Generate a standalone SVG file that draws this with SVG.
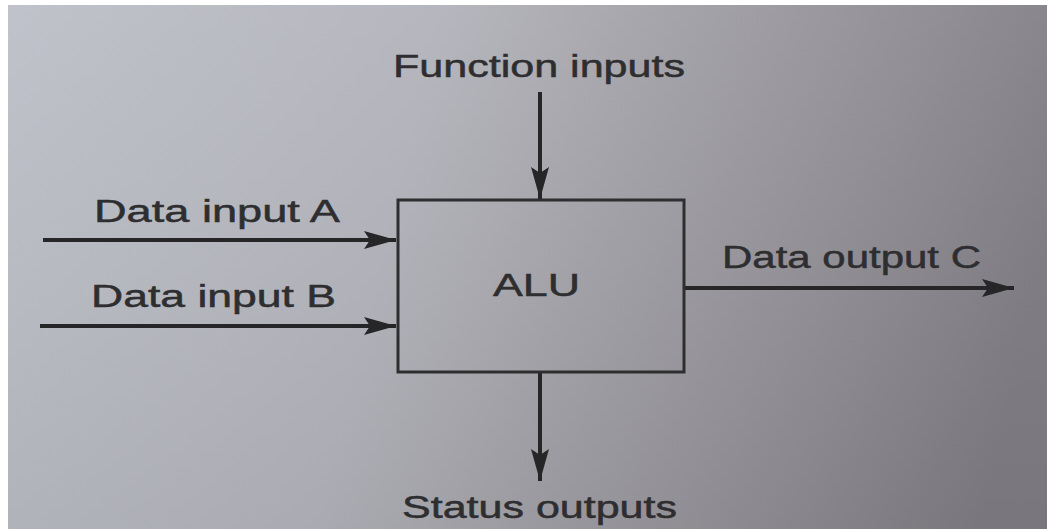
<svg xmlns="http://www.w3.org/2000/svg" width="1047" height="529" viewBox="0 0 1047 529">
  <defs>
    <linearGradient id="bg" x1="0" y1="0" x2="1047" y2="250" gradientUnits="userSpaceOnUse">
      <stop offset="0" stop-color="#bdc0c8"/>
      <stop offset="0.4" stop-color="#b3b4bb"/>
      <stop offset="0.58" stop-color="#a4a3a9"/>
      <stop offset="0.82" stop-color="#908e94"/>
      <stop offset="1" stop-color="#7f7d83"/>
    </linearGradient>
    <linearGradient id="shade" x1="0" y1="0" x2="0" y2="1">
      <stop offset="0" stop-color="#ffffff" stop-opacity="0.04"/>
      <stop offset="1" stop-color="#000000" stop-opacity="0.05"/>
    </linearGradient>
    <marker id="arr" viewBox="0 0 32 18" refX="32" refY="9" markerWidth="32" markerHeight="18" markerUnits="userSpaceOnUse" orient="auto">
      <path d="M0,0 L32,9 L0,18 L6,9 Z" fill="#262628"/>
    </marker>
    <style>
      .lbl { font-family: "Liberation Sans", Arial, sans-serif; font-size: 31px; fill: #2e2e30; stroke: #2e2e30; stroke-width: 0.5; }
      .wire { stroke: #262628; stroke-width: 4; fill: none; marker-end: url(#arr); }
      .box { stroke: #2e2e30; stroke-width: 3; fill: none; }
    </style>
  </defs>
  <rect x="0" y="0" width="1047" height="529" fill="#ffffff"/>
  <rect x="8" y="5" width="1039" height="524" fill="url(#bg)"/>
  <rect x="8" y="5" width="1039" height="524" fill="url(#shade)"/>

  <g id="connectors">
    <line class="wire" x1="540" y1="92" x2="540" y2="199"/>
    <line class="wire" x1="43" y1="240" x2="396" y2="240"/>
    <line class="wire" x1="40" y1="326" x2="396" y2="326"/>
    <line class="wire" x1="684" y1="288" x2="1014" y2="288"/>
    <line class="wire" x1="540" y1="373" x2="540" y2="481"/>
  </g>

  <g id="alu">
    <rect class="box" x="398" y="200" width="286" height="172"/>
    <text class="lbl" x="493" y="296" textLength="87" lengthAdjust="spacingAndGlyphs">ALU</text>
  </g>
  <g id="function-inputs">
    <text class="lbl" x="393" y="77" textLength="292" lengthAdjust="spacingAndGlyphs">Function inputs</text>
  </g>
  <g id="data-input-a">
    <text class="lbl" x="94" y="222" textLength="246" lengthAdjust="spacingAndGlyphs">Data input A</text>
  </g>
  <g id="data-input-b">
    <text class="lbl" x="91" y="307" textLength="245" lengthAdjust="spacingAndGlyphs">Data input B</text>
  </g>
  <g id="data-output-c">
    <text class="lbl" x="722" y="268" textLength="259" lengthAdjust="spacingAndGlyphs">Data output C</text>
  </g>
  <g id="status-outputs">
    <text class="lbl" x="402" y="518" textLength="275" lengthAdjust="spacingAndGlyphs">Status outputs</text>
  </g>
</svg>
